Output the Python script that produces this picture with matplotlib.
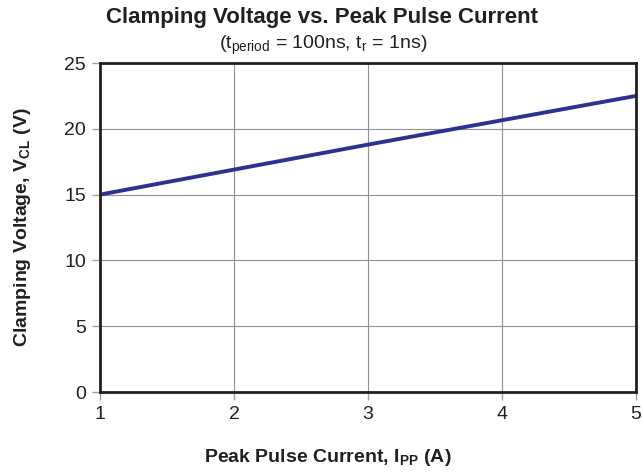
import matplotlib
matplotlib.use("Agg")
import matplotlib.pyplot as plt

# ------------------------------------------
# Data
# ------------------------------------------

current = [1, 2, 3, 4, 5]
voltage = [15.0, 16.9, 18.8, 20.65, 22.5]

x_ticks = [1, 2, 3, 4, 5]
y_ticks = [0, 5, 10, 15, 20, 25]

# ------------------------------------------
# Style
# ------------------------------------------

plt.rcParams["font.family"] = ["Liberation Sans", "DejaVu Sans"]
plt.rcParams["mathtext.fontset"] = "custom"
plt.rcParams["mathtext.rm"] = "Liberation Sans"
plt.rcParams["mathtext.bf"] = "Liberation Sans:bold"

fig = plt.figure(figsize=(6.43, 4.73), dpi=100)
ax = fig.add_axes([0.1555, 0.1712, 0.989 - 0.1555, 0.8668 - 0.1712])

ax.plot(current, voltage, color="#2e3192", linewidth=2.8, solid_capstyle="butt")

ax.set_xlim(1, 5)
ax.set_ylim(0, 25)
ax.set_xticks(x_ticks)
ax.set_yticks(y_ticks)

ax.grid(True, color="#8c919c", linewidth=0.8)
ax.set_axisbelow(True)

for side in ax.spines.values():
    side.set_linewidth(2)
    side.set_color("#231f20")

ax.tick_params(direction="out", length=6, width=1, color="#a0a0a0",
               labelsize=14, labelcolor="#231f20", pad=4)

# ------------------------------------------
# Labels and Title
# ------------------------------------------

ax.set_xlabel(r"Peak Pulse Current, I$_{\mathbf{PP}}$ (A)",
              fontsize=14, fontweight="bold", color="#231f20", va="center")
ax.xaxis.set_label_coords(0.425, -0.198)

ax.set_ylabel(r"Clamping Voltage, V$_{\mathbf{CL}}$ (V)",
              fontsize=14, fontweight="bold", color="#231f20", va="center")
ax.yaxis.set_label_coords(-0.144, 0.5)

fig.text(0.5, 0.962, "Clamping Voltage vs. Peak Pulse Current",
         ha="center", va="center", fontsize=16, fontweight="bold", color="#231f20")
fig.text(0.502, 0.905, r"(t$_{\mathrm{period}}$ = 100ns, t$_{\mathrm{r}}$ = 1ns)",
         ha="center", va="center", fontsize=14, color="#231f20")

fig.savefig("out.png", dpi=100)
